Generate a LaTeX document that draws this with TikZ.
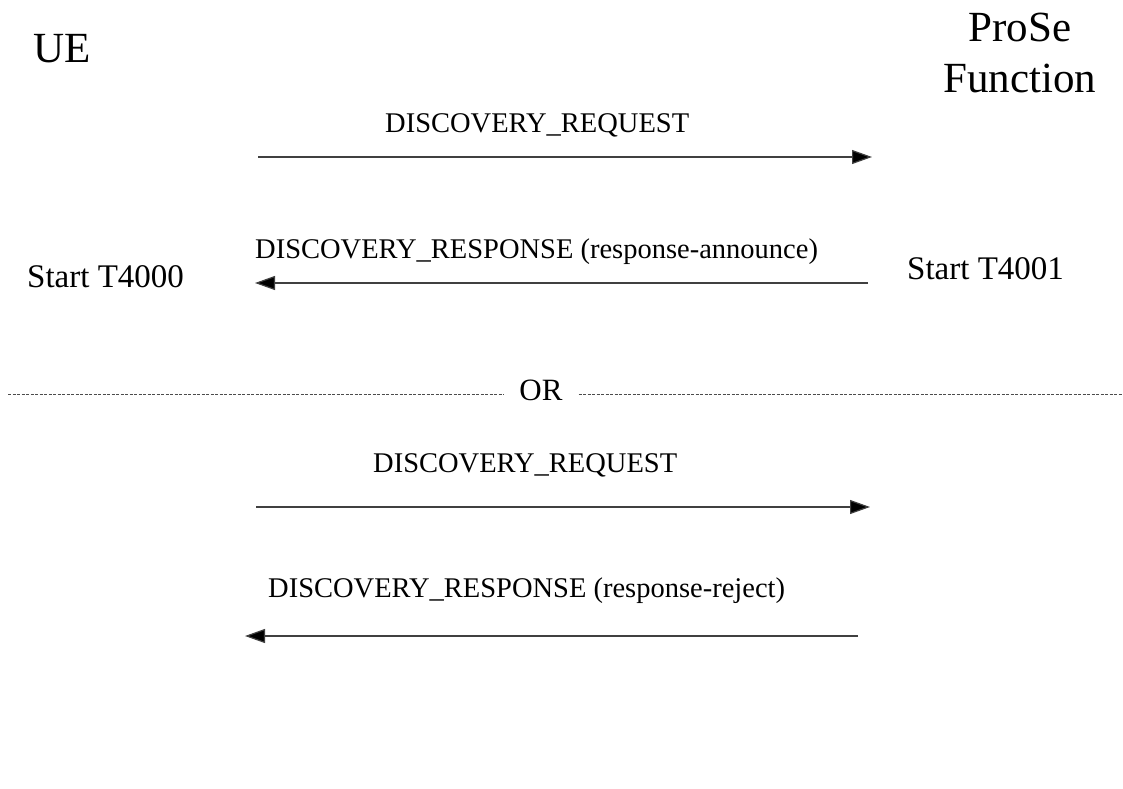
\documentclass[tikz,border=0pt]{standalone}
\usepackage{fontspec}
\setmainfont{Liberation Serif}
\usetikzlibrary{arrows.meta}

\begin{document}
\begin{tikzpicture}[x=1bp,y=-1bp,
		msg/.style={anchor=base west,inner sep=0pt,font=\fontsize{28.5bp}{34bp}\selectfont},
		timer/.style={anchor=base west,inner sep=0pt,font=\fontsize{33bp}{40bp}\selectfont},
		entity/.style={inner sep=0pt,align=center,font=\fontsize{43bp}{51bp}\selectfont},
		arr/.style={draw=black!75,line width=1.2bp,-{Triangle[length=20bp,width=14bp,fill=black]}}]
		\useasboundingbox (0,0) rectangle (1123,789);
		
		% entities
		\node[entity,anchor=base west] (ue) at (33,63) {UE};
		\node[entity,anchor=base] (prose) at (1020,93) {ProSe\\Function};
		
		% first exchange
		\node[msg] (req1) at (385,132) {DISCOVERY\_REQUEST};
		\coordinate (req1a) at (258,157);
		\coordinate (req1b) at (872,157);
		\draw[arr] (req1a) -- (req1b);
		
		\node[msg] (resp1) at (255,258) {DISCOVERY\_RESPONSE (response-announce)};
		\coordinate (resp1a) at (868,283);
		\coordinate (resp1b) at (255,283);
		\draw[arr] (resp1a) -- (resp1b);
		
		\node[timer] (t4000) at (27,287) {Start T4000};
		\node[timer] (t4001) at (907,279) {Start T4001};
		
		% alternative
		\node[msg,anchor=base,font=\fontsize{31bp}{36bp}\selectfont] (or) at (541,400) {OR};
		\coordinate (sepl) at (8,394);
		\coordinate (sepr) at (1123,394);
		\draw[black!70,line width=0.8bp,dash pattern=on 3bp off 1.5bp] (sepl) -- ([xshift=-16bp]sepl -| or.west);
		\draw[black!70,line width=0.8bp,dash pattern=on 3bp off 1.5bp] ([xshift=16bp]sepr -| or.east) -- (sepr);
		
		% second exchange
		\node[msg] (req2) at (373,472) {DISCOVERY\_REQUEST};
		\coordinate (req2a) at (256,507);
		\coordinate (req2b) at (870,507);
		\draw[arr] (req2a) -- (req2b);
		
		\node[msg] (resp2) at (268,597) {DISCOVERY\_RESPONSE (response-reject)};
		\coordinate (resp2a) at (858,636);
		\coordinate (resp2b) at (245,636);
		\draw[arr] (resp2a) -- (resp2b);
		\end{tikzpicture}
\end{document}
